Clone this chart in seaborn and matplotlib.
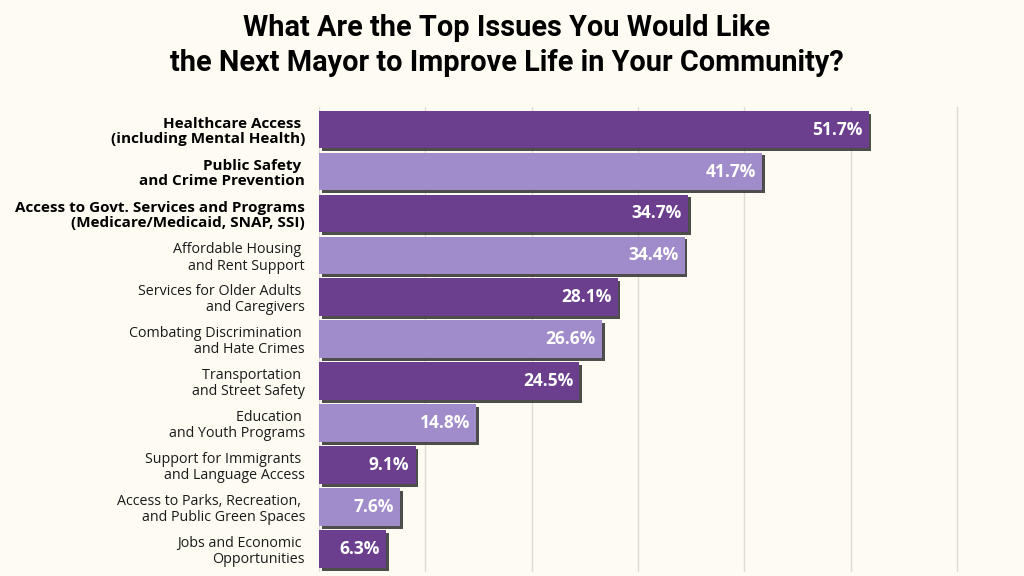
import matplotlib
matplotlib.use('Agg')
import matplotlib.pyplot as plt
import matplotlib.patheffects as pe
import seaborn as sns
import pandas as pd

# Survey results
issues = [
    'Healthcare Access \n(including Mental Health)',
    'Public Safety \nand Crime Prevention',
    'Access to Govt. Services and Programs\n(Medicare/Medicaid, SNAP, SSI)',
    'Affordable Housing \nand Rent Support',
    'Services for Older Adults \nand Caregivers',
    'Combating Discrimination \nand Hate Crimes',
    'Transportation \nand Street Safety',
    'Education \nand Youth Programs',
    'Support for Immigrants \nand Language Access',
    'Access to Parks, Recreation, \nand Public Green Spaces',
    'Jobs and Economic \nOpportunities',
]
percent = [51.7, 41.7, 34.7, 34.4, 28.1, 26.6, 24.5, 14.8, 9.1, 7.6, 6.3]
bold_rows = 3
x_ticks = [0, 10, 20, 30, 40, 50, 60]

bg = '#fefcf2'
dark = '#6b3f8e'
light = '#a08bcb'

df = pd.DataFrame({'issue': issues, 'percent': percent})
palette = [dark if i % 2 == 0 else light for i in range(len(issues))]

sns.set_theme(style='white')
plt.rcParams['font.family'] = ['Open Sans', 'DejaVu Sans']

fig = plt.figure(figsize=(10.24, 5.76), dpi=100, facecolor=bg)
ax = fig.add_axes([0.3115, 0.007, 0.625, 0.808])
ax.set_facecolor(bg)

sns.barplot(data=df, x='percent', y='issue', hue='issue', palette=palette,
            width=0.9, legend=False, saturation=1, ax=ax, zorder=3)

for bar in ax.patches:
    bar.set_edgecolor('none')
    bar.set_path_effects([pe.SimplePatchShadow(offset=(2, -2), shadow_rgbFace='#2e2e2e', alpha=0.85),
                          pe.Normal()])

for i, v in enumerate(percent):
    ax.text(v - 0.6, i, f'{v}%', ha='right', va='center', color='white',
            fontsize=12.5, fontweight='bold', zorder=5)

ax.set_xlim(0, 60.2)
ax.set_ylim(10.55, -0.55)
ax.set_xticks(x_ticks)
ax.xaxis.grid(True, color='#dddbd2', linewidth=1)
ax.tick_params(axis='x', labelbottom=False, length=0)
ax.tick_params(axis='y', length=0, pad=10)
ax.set_xlabel('')
ax.set_ylabel('')
for s in ax.spines.values():
    s.set_visible(False)

for i, lab in enumerate(ax.get_yticklabels()):
    lab.set_fontsize(10.3)
    lab.set_color('#1a1a1a')
    lab.set_linespacing(1.1)
    if i < bold_rows:
        lab.set_fontsize(11)
        lab.set_fontweight('bold')
        lab.set_color('black')

fig.text(0.495, 0.975, 'What Are the Top Issues You Would Like\nthe Next Mayor to Improve Life in Your Community?',
         ha='center', va='top', fontsize=20.8, fontweight='bold', linespacing=1.3,
         color='black', family=['Roboto', 'DejaVu Sans'])

fig.savefig('out.png', dpi=100, facecolor=bg)
